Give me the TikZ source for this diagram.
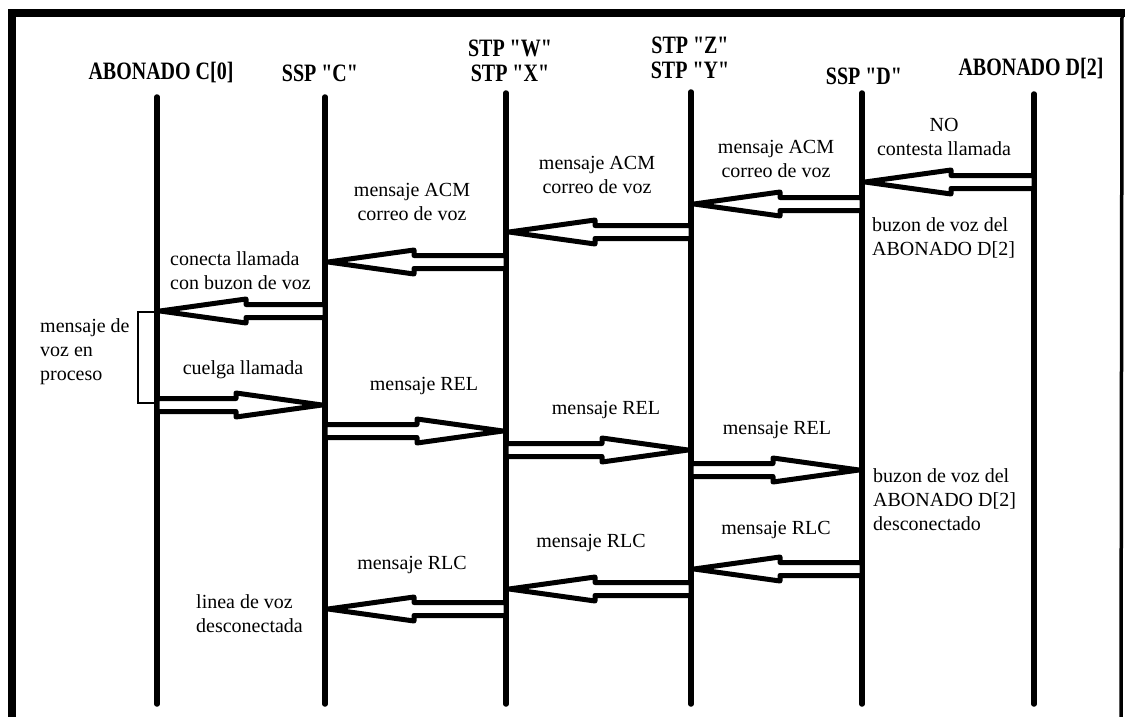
\documentclass[tikz,border=0pt]{standalone}
\usepackage{fontspec}
\setmainfont{Liberation Serif}
\newfontfamily\hdrfont{Liberation Serif}[FakeStretch=0.8]
\usetikzlibrary{calc}

% hollow block arrow from #1 (tail) to #2 (tip)
\newcommand\blockarrow[2]{%
  \draw[blockarrow] let \p1=(#1), \p2=(#2), \n1={ifthenelse(\x2>\x1,1,-1)} in
    (\x1,\y1+6.5pt) -- (\x2-\n1*86pt,\y1+6.5pt) -- (\x2-\n1*86pt,\y1+12pt)
    -- (\x2,\y2) -- (\x2-\n1*86pt,\y1-12pt) -- (\x2-\n1*86pt,\y1-6.5pt)
    -- (\x1,\y1-6.5pt) -- cycle;}

\begin{document}
\begin{tikzpicture}[x=1pt,y=-1pt,
  lifeline/.style={line width=5.5pt,line cap=round},
  blockarrow/.style={line width=5pt,line join=round,fill=white},
  hdr/.style={font=\hdrfont\bfseries\fontsize{25}{25}\selectfont,align=center,inner sep=0pt},
  lbl/.style={font=\fontsize{20}{24}\selectfont,align=center,inner sep=0pt},
  lbll/.style={lbl,align=left,anchor=west},
  frame/.style={line width=8pt},
  bracket/.style={line width=2pt}]
\useasboundingbox (0,0) rectangle (1125,717);

% outer frame
\draw[frame] (12,725) -- (12,13.5) -- (1125,13.5);
\draw[line width=3.5pt] (1122,10) -- (1121,717);

% headers
\node[hdr] (hA) at (161,72) {ABONADO C[0]};
\node[hdr] (hB) at (320,73) {SSP "C"};
\node[hdr] (hC) at (510,61) {STP "W"\\STP "X"};
\node[hdr] (hD) at (690,58) {STP "Z"\\STP "Y"};
\node[hdr] (hE) at (864,76) {SSP "D"};
\node[hdr] (hF) at (1031,68) {ABONADO D[2]};

% lifelines
\coordinate (lA-top) at (157,97);  \coordinate (lA-bot) at (157,704);
\coordinate (lB-top) at (325,97);  \coordinate (lB-bot) at (325,704);
\coordinate (lC-top) at (506,93);  \coordinate (lC-bot) at (506,704);
\coordinate (lD-top) at (691,92);  \coordinate (lD-bot) at (691,704);
\coordinate (lE-top) at (862,93);  \coordinate (lE-bot) at (862,704);
\coordinate (lF-top) at (1034,94); \coordinate (lF-bot) at (1034,704);
\foreach \l in {lA,lB,lC,lD,lE,lF}
  \draw[lifeline] (\l-top) -- (\l-bot);

% message end points
\coordinate (m1s) at (1034,182); \coordinate (m1e) at (865,182);
\coordinate (m2s) at (862,204);  \coordinate (m2e) at (694,204);
\coordinate (m3s) at (691,232);  \coordinate (m3e) at (509,232);
\coordinate (m4s) at (506,262);  \coordinate (m4e) at (328,262);
\coordinate (m5s) at (325,311);  \coordinate (m5e) at (160,311);
\coordinate (m6s) at (157,405);  \coordinate (m6e) at (322,405);
\coordinate (m7s) at (325,431);  \coordinate (m7e) at (503,431);
\coordinate (m8s) at (506,450);  \coordinate (m8e) at (688,450);
\coordinate (m9s) at (691,470);  \coordinate (m9e) at (859,470);
\coordinate (m10s) at (862,569); \coordinate (m10e) at (694,569);
\coordinate (m11s) at (691,589); \coordinate (m11e) at (509,589);
\coordinate (m12s) at (506,609); \coordinate (m12e) at (328,609);

\foreach \m in {1,...,12}
  \blockarrow{m\m s}{m\m e};

% bracket for the voice message in progress
\coordinate (brTop) at (157,312);
\coordinate (brBot) at (157,403);
\draw[bracket] (brTop) -- ++(-19,0) |- (brBot);

% message labels
\node[lbl] (t1) at (944,137) {NO\\contesta llamada};
\node[lbl] (t2) at (776,159) {mensaje ACM\\correo de voz};
\node[lbl] (t3) at (597,175) {mensaje ACM\\correo de voz};
\node[lbl] (t4) at (412,202) {mensaje ACM\\correo de voz};
\node[lbll] (t5) at (170,271) {conecta llamada\\con buzon de voz};
\node[lbl] (t6) at (243,370) {cuelga llamada};
\node[lbl] (t7) at (424,386) {mensaje REL};
\node[lbl] (t8) at (606,410) {mensaje REL};
\node[lbl] (t9) at (777,430) {mensaje REL};
\node[lbl] (t10) at (776,530) {mensaje RLC};
\node[lbl] (t11) at (591,543) {mensaje RLC};
\node[lbl] (t12) at (412,565) {mensaje RLC};

% side notes
\node[lbll] (n1) at (872,238) {buzon de voz del\\ABONADO D[2]};
\node[lbll] (n2) at (873,500) {buzon de voz del\\ABONADO D[2]\\desconectado};
\node[lbll] (n3) at (196,614) {linea de voz\\desconectada};
\node[lbll] (n4) at (40,352) {mensaje de\\voz en\\proceso};
\end{tikzpicture}
\end{document}
